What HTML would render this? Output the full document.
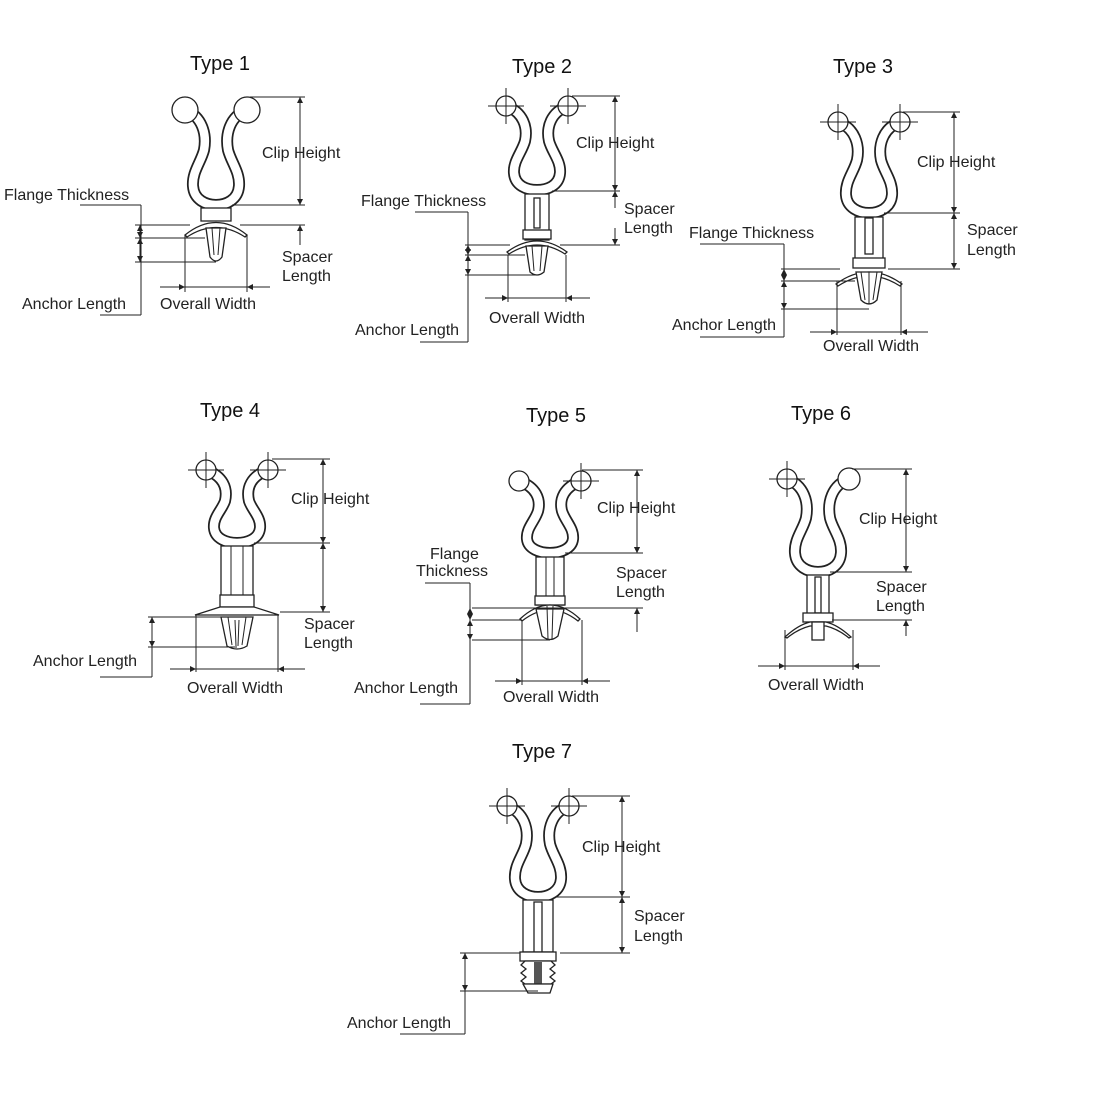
<!DOCTYPE html>
<html><head><meta charset="utf-8"><style>
html,body{margin:0;padding:0;background:#fff}
svg{display:block}
text{font-family:"Liberation Sans",sans-serif;font-size:16px;fill:#222}
.t{font-size:20px;fill:#111}
.l{stroke:#222;stroke-width:1;fill:none}
.s{stroke:#222;stroke-width:1.3;fill:#fff}
.o{stroke:#222;stroke-width:12;fill:none}
.i{stroke:#fff;stroke-width:8.5;fill:none}
.a{stroke:#222;stroke-width:1;fill:none;marker-start:url(#ah);marker-end:url(#ah)}
.a1{stroke:#222;stroke-width:1;fill:none;marker-end:url(#ah)}
</style></head><body>
<svg width="1100" height="1100" viewBox="0 0 1100 1100" xmlns="http://www.w3.org/2000/svg">
<defs>
<marker id="ah" viewBox="0 0 10 10" refX="10" refY="5" markerWidth="12" markerHeight="6" orient="auto-start-reverse" markerUnits="userSpaceOnUse"><path d="M0,0 L10,5 L0,10 z" fill="#222"/></marker>
</defs>

<text class="t" x="190" y="70">Type 1</text>
<text class="t" x="512" y="73">Type 2</text>
<text class="t" x="833" y="73">Type 3</text>
<text class="t" x="200" y="417">Type 4</text>
<text class="t" x="526" y="422">Type 5</text>
<text class="t" x="791" y="420">Type 6</text>
<text class="t" x="512" y="758">Type 7</text>

<!-- TYPE 1 -->
<g transform="translate(216,110)">
<path class="o" d="M-31,0 C-14,6 -9,24 -12,40 C-15,52 -24,62 -23,76 C-22,90 -10,95 0,95 C10,95 22,90 23,76 C24,62 15,52 12,40 C9,24 14,6 31,0"/>
<path class="i" d="M-31,0 C-14,6 -9,24 -12,40 C-15,52 -24,62 -23,76 C-22,90 -10,95 0,95 C10,95 22,90 23,76 C24,62 15,52 12,40 C9,24 14,6 31,0"/>
<circle class="s" cx="-31" cy="0" r="13"/><circle class="s" cx="31" cy="0" r="13"/>
<rect class="s" x="-15" y="98" width="30" height="13"/>
<path class="s" d="M-31,125 Q0,100 31,125 L29,127 Q0,108 -29,127 z"/>
<path class="s" d="M-10,118 L-6,147 Q0,155 6,147 L10,118 z"/>
<line class="l" x1="-4" y1="118" x2="-2" y2="145"/><line class="l" x1="4" y1="118" x2="2" y2="145"/>
</g>
<line class="l" x1="250" y1="97" x2="305" y2="97"/><line class="l" x1="232" y1="205" x2="305" y2="205"/>
<line class="a" x1="300" y1="97" x2="300" y2="205"/>
<line class="l" x1="240" y1="225" x2="305" y2="225"/><line class="a1" x1="300" y1="245" x2="300" y2="225"/>
<line class="l" x1="135" y1="225" x2="190" y2="225"/><line class="l" x1="135" y1="238" x2="205" y2="238"/><line class="l" x1="135" y1="262" x2="216" y2="262"/>
<line class="a" x1="140" y1="225" x2="140" y2="238"/><line class="a" x1="140" y1="238" x2="140" y2="262"/>
<line class="l" x1="80" y1="205" x2="141" y2="205"/><line class="l" x1="141" y1="205" x2="141" y2="315"/><line class="l" x1="100" y1="315" x2="141" y2="315"/>
<line class="l" x1="185" y1="235" x2="185" y2="292"/><line class="l" x1="247" y1="235" x2="247" y2="292"/>
<line class="l" x1="160" y1="287" x2="270" y2="287"/>
<line class="a1" x1="170" y1="287" x2="185" y2="287"/><line class="a1" x1="262" y1="287" x2="247" y2="287"/>
<text x="262" y="158">Clip Height</text>
<text x="4" y="200">Flange Thickness</text>
<text x="282" y="262">Spacer</text><text x="282" y="281">Length</text>
<text x="22" y="309">Anchor Length</text>
<text x="160" y="309">Overall Width</text>

<!-- TYPE 2 -->
<g transform="translate(537,106)">
<path class="o" d="M-31,0 C-14,6 -9,21 -12,35 C-15,46 -24,55 -23,67 C-22,80 -10,84 0,84 C10,84 22,80 23,67 C24,55 15,46 12,35 C9,21 14,6 31,0"/>
<path class="i" d="M-31,0 C-14,6 -9,21 -12,35 C-15,46 -24,55 -23,67 C-22,80 -10,84 0,84 C10,84 22,80 23,67 C24,55 15,46 12,35 C9,21 14,6 31,0"/>
<circle class="s" cx="-31" cy="0" r="10"/><circle class="s" cx="31" cy="0" r="10"/>
<path class="l" d="M-49,0 H-13 M-31,-18 V18 M13,0 H49 M31,-18 V18"/>
<rect class="s" x="-12" y="88" width="24" height="46"/>
<rect class="s" x="-14" y="124" width="28" height="9"/>
<rect class="s" x="-3" y="92" width="6" height="30"/>
<path class="s" d="M-30,146 Q0,124 30,146 L28,148 Q0,130 -28,148 z"/>
<path class="s" d="M-11,140 L-7,166 Q0,172 7,166 L11,140 z"/>
<line class="l" x1="-5" y1="140" x2="-3" y2="165"/><line class="l" x1="5" y1="140" x2="3" y2="165"/>
</g>
<line class="l" x1="572" y1="96" x2="620" y2="96"/><line class="l" x1="552" y1="191" x2="620" y2="191"/>
<line class="a" x1="615" y1="96" x2="615" y2="191"/>
<line class="l" x1="560" y1="245" x2="620" y2="245"/>
<line class="a1" x1="615" y1="208" x2="615" y2="191"/><line class="a1" x1="615" y1="228" x2="615" y2="245"/>
<line class="l" x1="465" y1="245" x2="510" y2="245"/><line class="l" x1="465" y1="255" x2="525" y2="255"/><line class="l" x1="465" y1="275" x2="537" y2="275"/>
<line class="a" x1="468" y1="245" x2="468" y2="255"/><line class="a" x1="468" y1="255" x2="468" y2="275"/>
<line class="l" x1="415" y1="212" x2="468" y2="212"/><line class="l" x1="468" y1="212" x2="468" y2="342"/><line class="l" x1="420" y1="342" x2="468" y2="342"/>
<line class="l" x1="508" y1="255" x2="508" y2="302"/><line class="l" x1="566" y1="255" x2="566" y2="302"/>
<line class="l" x1="485" y1="298" x2="590" y2="298"/>
<line class="a1" x1="495" y1="298" x2="508" y2="298"/><line class="a1" x1="580" y1="298" x2="566" y2="298"/>
<text x="576" y="148">Clip Height</text>
<text x="361" y="206">Flange Thickness</text>
<text x="624" y="214">Spacer</text><text x="624" y="233">Length</text>
<text x="355" y="335">Anchor Length</text>
<text x="489" y="323">Overall Width</text>

<!-- TYPE 3 -->
<g transform="translate(869,122)">
<path class="o" d="M-31,0 C-14,6 -9,23 -12,38 C-15,50 -24,59 -23,73 C-22,86 -10,91 0,91 C10,91 22,86 23,73 C24,59 15,50 12,38 C9,23 14,6 31,0"/>
<path class="i" d="M-31,0 C-14,6 -9,23 -12,38 C-15,50 -24,59 -23,73 C-22,86 -10,91 0,91 C10,91 22,86 23,73 C24,59 15,50 12,38 C9,23 14,6 31,0"/>
<circle class="s" cx="-31" cy="0" r="10"/><circle class="s" cx="31" cy="0" r="10"/>
<path class="l" d="M-49,0 H-13 M-31,-18 V18 M13,0 H49 M31,-18 V18"/>
<rect class="s" x="-14" y="95" width="28" height="50"/>
<rect class="s" x="-4" y="96" width="8" height="36"/>
<rect class="s" x="-16" y="136" width="32" height="10"/>
<path class="s" d="M-33,162 Q0,138 33,162 L31,164 Q0,144 -31,164 z"/>
<path class="s" d="M-13,150 L-8,178 Q0,186 8,178 L13,150 z"/>
<line class="l" x1="-8" y1="150" x2="-4" y2="178"/><line class="l" x1="8" y1="150" x2="4" y2="178"/><line class="l" x1="0" y1="150" x2="0" y2="182"/>
</g>
<line class="l" x1="903" y1="112" x2="960" y2="112"/><line class="l" x1="884" y1="213" x2="960" y2="213"/>
<line class="a" x1="954" y1="112" x2="954" y2="213"/>
<line class="l" x1="888" y1="269" x2="960" y2="269"/>
<line class="a" x1="954" y1="213" x2="954" y2="269"/>
<line class="l" x1="781" y1="269" x2="840" y2="269"/><line class="l" x1="781" y1="281" x2="855" y2="281"/><line class="l" x1="781" y1="309" x2="869" y2="309"/>
<line class="a" x1="784" y1="269" x2="784" y2="281"/><line class="a" x1="784" y1="281" x2="784" y2="309"/>
<line class="l" x1="700" y1="244" x2="784" y2="244"/><line class="l" x1="784" y1="244" x2="784" y2="337"/><line class="l" x1="700" y1="337" x2="784" y2="337"/>
<line class="l" x1="837" y1="281" x2="837" y2="335"/><line class="l" x1="901" y1="281" x2="901" y2="335"/>
<line class="l" x1="810" y1="332" x2="928" y2="332"/>
<line class="a1" x1="822" y1="332" x2="837" y2="332"/><line class="a1" x1="916" y1="332" x2="901" y2="332"/>
<text x="917" y="167">Clip Height</text>
<text x="689" y="238">Flange Thickness</text>
<text x="967" y="235">Spacer</text><text x="967" y="255">Length</text>
<text x="672" y="330">Anchor Length</text>
<text x="823" y="351">Overall Width</text>

<!-- TYPE 4 -->
<g transform="translate(237,470)">
<path class="o" d="M-31,0 C-14,6 -9,18 -12,31 C-15,40 -24,47 -23,58 C-22,69 -10,73 0,73 C10,73 22,69 23,58 C24,47 15,40 12,31 C9,18 14,6 31,0"/>
<path class="i" d="M-31,0 C-14,6 -9,18 -12,31 C-15,40 -24,47 -23,58 C-22,69 -10,73 0,73 C10,73 22,69 23,58 C24,47 15,40 12,31 C9,18 14,6 31,0"/>
<circle class="s" cx="-31" cy="0" r="10"/><circle class="s" cx="31" cy="0" r="10"/>
<path class="l" d="M-49,0 H-13 M-31,-18 V18 M13,0 H49 M31,-18 V18"/>
<rect class="s" x="-16" y="76" width="32" height="62"/>
<line class="l" x1="-6" y1="76" x2="-6" y2="125"/><line class="l" x1="6" y1="76" x2="6" y2="125"/>
<rect class="s" x="-17" y="125" width="34" height="12"/>
<path class="s" d="M-42,145 L-17,137 L17,137 L42,145 z"/>
<path class="s" d="M-16,147 L-10,176 Q0,182 10,176 L16,147 z"/>
<line class="l" x1="-9" y1="147" x2="-5" y2="175"/><line class="l" x1="9" y1="147" x2="5" y2="175"/><line class="l" x1="-2" y1="150" x2="-1" y2="176"/><line class="l" x1="2" y1="150" x2="1" y2="176"/>
</g>
<line class="l" x1="272" y1="459" x2="330" y2="459"/><line class="l" x1="254" y1="543" x2="330" y2="543"/>
<line class="a" x1="323" y1="459" x2="323" y2="543"/>
<line class="l" x1="280" y1="612" x2="330" y2="612"/>
<line class="a" x1="323" y1="543" x2="323" y2="612"/>
<line class="l" x1="148" y1="617" x2="225" y2="617"/><line class="l" x1="148" y1="647" x2="237" y2="647"/>
<line class="a" x1="152" y1="617" x2="152" y2="647"/>
<line class="l" x1="152" y1="647" x2="152" y2="677"/><line class="l" x1="100" y1="677" x2="152" y2="677"/>
<line class="l" x1="196" y1="615" x2="196" y2="672"/><line class="l" x1="278" y1="615" x2="278" y2="672"/>
<line class="l" x1="170" y1="669" x2="305" y2="669"/>
<line class="a1" x1="182" y1="669" x2="196" y2="669"/><line class="a1" x1="292" y1="669" x2="278" y2="669"/>
<text x="291" y="504">Clip Height</text>
<text x="304" y="629">Spacer</text><text x="304" y="648">Length</text>
<text x="33" y="666">Anchor Length</text>
<text x="187" y="693">Overall Width</text>

<!-- TYPE 5 -->
<g transform="translate(550,481)">
<path class="o" d="M-31,0 C-14,6 -9,18 -12,30 C-15,40 -24,47 -23,58 C-22,68 -10,72 0,72 C10,72 22,68 23,58 C24,47 15,40 12,30 C9,18 14,6 31,0"/>
<path class="i" d="M-31,0 C-14,6 -9,18 -12,30 C-15,40 -24,47 -23,58 C-22,68 -10,72 0,72 C10,72 22,68 23,58 C24,47 15,40 12,30 C9,18 14,6 31,0"/>
<circle class="s" cx="-31" cy="0" r="10"/><circle class="s" cx="31" cy="0" r="10"/>
<path class="l" d="M13,0 H49 M31,-18 V18"/>
<rect class="s" x="-14" y="76" width="28" height="48"/>
<line class="l" x1="-4" y1="76" x2="-4" y2="115"/><line class="l" x1="4" y1="76" x2="4" y2="115"/>
<rect class="s" x="-15" y="115" width="30" height="9"/>
<path class="s" d="M-30,138 Q0,110 30,138 L28,140 Q0,118 -28,140 z"/>
<path class="s" d="M-14,128 L-8,155 Q0,162 8,155 L14,128 z"/>
<line class="l" x1="-3" y1="125" x2="-2" y2="158"/><line class="l" x1="3" y1="125" x2="2" y2="158"/>
</g>
<line class="l" x1="582" y1="470" x2="643" y2="470"/><line class="l" x1="565" y1="553" x2="643" y2="553"/>
<line class="a" x1="637" y1="470" x2="637" y2="553"/>
<line class="l" x1="472" y1="608" x2="643" y2="608"/>
<line class="a1" x1="637" y1="540" x2="637" y2="553"/><line class="a1" x1="637" y1="632" x2="637" y2="608"/>
<line class="l" x1="472" y1="620" x2="522" y2="620"/><line class="l" x1="472" y1="640" x2="550" y2="640"/>
<line class="a" x1="470" y1="608" x2="470" y2="620"/><line class="a" x1="470" y1="620" x2="470" y2="640"/>
<line class="l" x1="425" y1="583" x2="470" y2="583"/><line class="l" x1="470" y1="583" x2="470" y2="704"/><line class="l" x1="420" y1="704" x2="470" y2="704"/>
<line class="l" x1="522" y1="620" x2="522" y2="685"/><line class="l" x1="582" y1="620" x2="582" y2="685"/>
<line class="l" x1="495" y1="681" x2="610" y2="681"/>
<line class="a1" x1="507" y1="681" x2="522" y2="681"/><line class="a1" x1="597" y1="681" x2="582" y2="681"/>
<text x="597" y="513">Clip Height</text>
<text x="430" y="559">Flange</text><text x="416" y="576">Thickness</text>
<text x="616" y="578">Spacer</text><text x="616" y="597">Length</text>
<text x="354" y="693">Anchor Length</text>
<text x="503" y="702">Overall Width</text>

<!-- TYPE 6 -->
<g transform="translate(818,479)">
<path class="o" d="M-31,0 C-14,6 -9,23 -12,39 C-15,51 -24,60 -23,74 C-22,88 -10,93 0,93 C10,93 22,88 23,74 C24,60 15,51 12,39 C9,23 14,6 31,0"/>
<path class="i" d="M-31,0 C-14,6 -9,23 -12,39 C-15,51 -24,60 -23,74 C-22,88 -10,93 0,93 C10,93 22,88 23,74 C24,60 15,51 12,39 C9,23 14,6 31,0"/>
<circle class="s" cx="-31" cy="0" r="10"/><circle class="s" cx="31" cy="0" r="11"/>
<path class="l" d="M-49,0 H-13 M-31,-18 V18"/>
<rect class="s" x="-11" y="96" width="22" height="48"/>
<rect class="s" x="-3" y="98" width="6" height="36"/>
<rect class="s" x="-15" y="134" width="30" height="9"/>
<path class="s" d="M-33,158 Q-20,146 -8,143 L8,143 Q20,146 33,158 L31,159 Q20,150 8,147 L-8,147 Q-20,150 -31,159 z"/>
<rect class="s" x="-6" y="143" width="12" height="18"/>
</g>
<line class="l" x1="852" y1="469" x2="912" y2="469"/><line class="l" x1="830" y1="572" x2="912" y2="572"/>
<line class="a" x1="906" y1="469" x2="906" y2="572"/>
<line class="l" x1="832" y1="620" x2="912" y2="620"/>
<line class="a1" x1="906" y1="636" x2="906" y2="620"/>
<line class="l" x1="785" y1="630" x2="785" y2="670"/><line class="l" x1="853" y1="630" x2="853" y2="670"/>
<line class="l" x1="758" y1="666" x2="880" y2="666"/>
<line class="a1" x1="770" y1="666" x2="785" y2="666"/><line class="a1" x1="868" y1="666" x2="853" y2="666"/>
<text x="859" y="524">Clip Height</text>
<text x="876" y="592">Spacer</text><text x="876" y="611">Length</text>
<text x="768" y="690">Overall Width</text>

<!-- TYPE 7 -->
<g transform="translate(538,806)">
<path class="o" d="M-31,0 C-14,6 -9,23 -12,38 C-15,50 -24,59 -23,73 C-22,86 -10,91 0,91 C10,91 22,86 23,73 C24,59 15,50 12,38 C9,23 14,6 31,0"/>
<path class="i" d="M-31,0 C-14,6 -9,23 -12,38 C-15,50 -24,59 -23,73 C-22,86 -10,91 0,91 C10,91 22,86 23,73 C24,59 15,50 12,38 C9,23 14,6 31,0"/>
<circle class="s" cx="-31" cy="0" r="10"/><circle class="s" cx="31" cy="0" r="10"/>
<path class="l" d="M-49,0 H-13 M-31,-18 V18 M13,0 H49 M31,-18 V18"/>
<rect class="s" x="-15" y="94" width="30" height="52"/>
<rect class="s" x="-4" y="96" width="8" height="50"/>
<rect class="s" x="-18" y="146" width="36" height="9"/>
<path class="s" d="M-13,155 L-17,159 L-12,163 L-17,167 L-12,171 L-17,175 L-13,178 L13,178 L17,175 L12,171 L17,167 L12,163 L17,159 L13,155 z"/>
<rect x="-4" y="156" width="8" height="22" fill="#555"/>
<path class="s" d="M-15,178 L15,178 L12,187 L-10,187 z"/>
</g>
<line class="l" x1="572" y1="796" x2="630" y2="796"/><line class="l" x1="556" y1="897" x2="630" y2="897"/>
<line class="a" x1="622" y1="796" x2="622" y2="897"/>
<line class="l" x1="560" y1="953" x2="630" y2="953"/>
<line class="a" x1="622" y1="897" x2="622" y2="953"/>
<line class="l" x1="460" y1="953" x2="520" y2="953"/><line class="l" x1="460" y1="991" x2="538" y2="991"/>
<line class="a" x1="465" y1="953" x2="465" y2="991"/>
<line class="l" x1="465" y1="991" x2="465" y2="1034"/><line class="l" x1="400" y1="1034" x2="465" y2="1034"/>
<text x="582" y="852">Clip Height</text>
<text x="634" y="921">Spacer</text><text x="634" y="941">Length</text>
<text x="347" y="1028">Anchor Length</text>
</svg>
</body></html>
